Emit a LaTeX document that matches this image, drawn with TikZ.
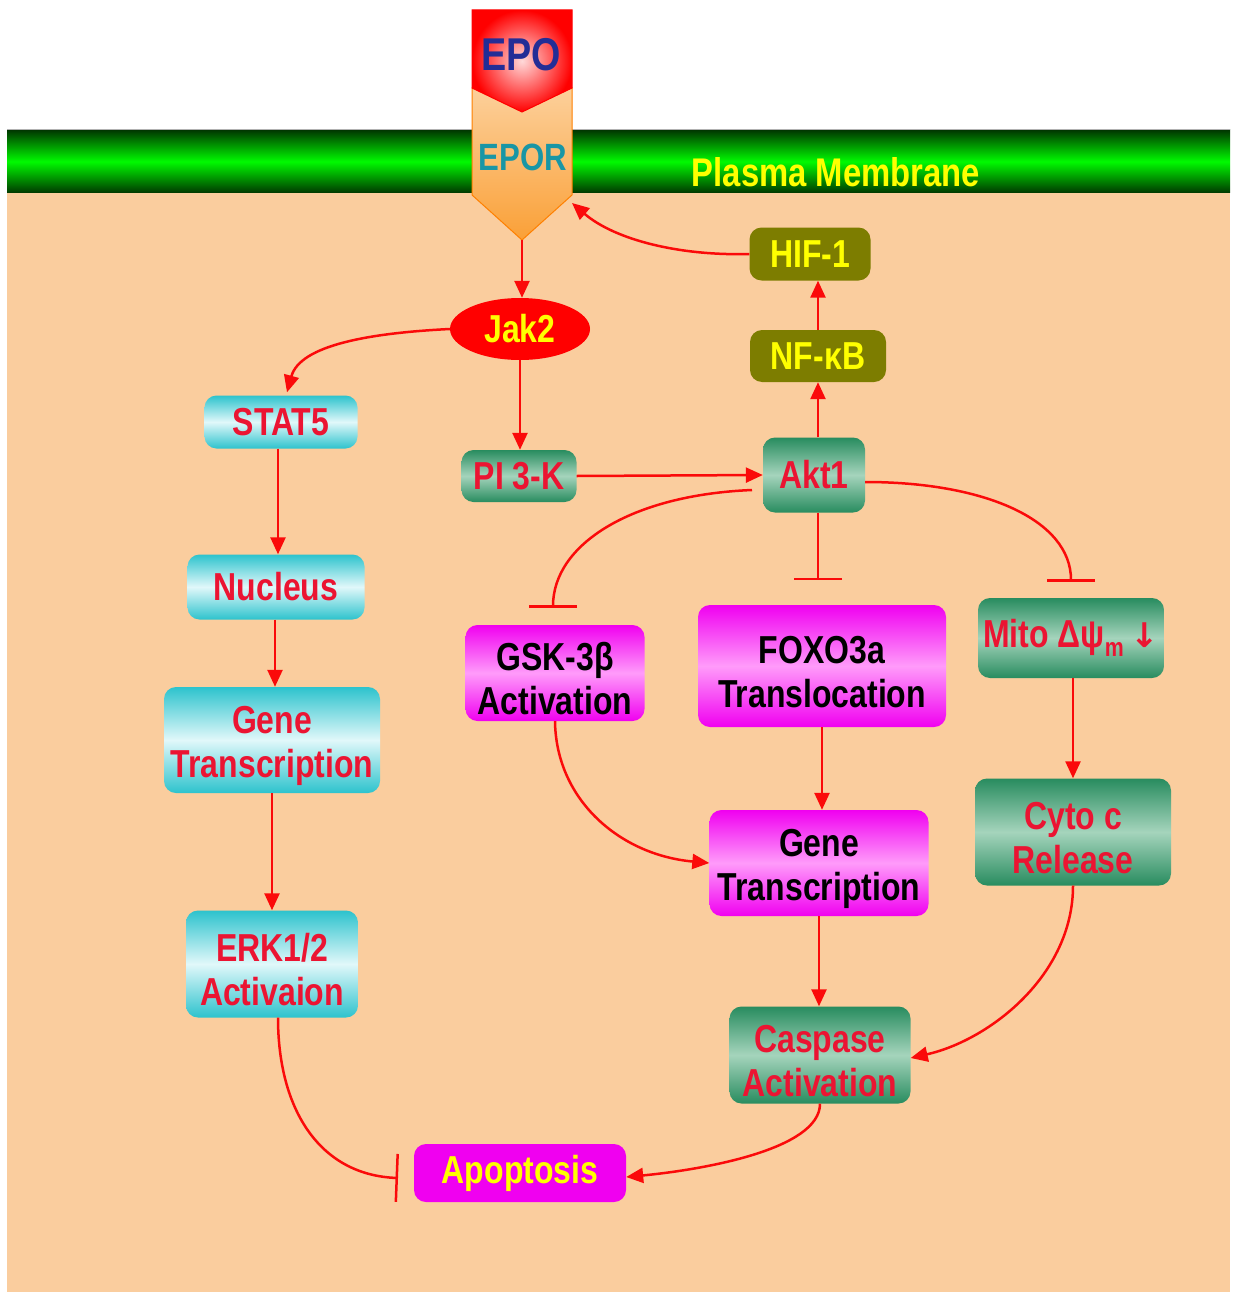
\documentclass[tikz,border=0pt]{standalone}
\usepackage{fontspec}
\setmainfont{Liberation Sans}[FakeStretch=0.82]
\newfontfamily\dejab{DejaVu Sans}
\newcommand\tstrut{\rule{0pt}{40pt}}
\usetikzlibrary{arrows.meta,shapes.geometric,calc}
\definecolor{peach}{RGB}{250,205,158}
\definecolor{memdark}{RGB}{0,55,0}
\definecolor{membright}{RGB}{0,250,0}
\definecolor{txtred}{RGB}{235,20,50}
\definecolor{txtyel}{RGB}{255,255,0}
\definecolor{arrred}{RGB}{250,10,10}
\definecolor{cyandk}{RGB}{45,195,205}
\definecolor{cyanlt}{RGB}{225,248,250}
\definecolor{grndk}{RGB}{40,140,95}
\definecolor{grnlt}{RGB}{165,212,188}
\definecolor{magdk}{RGB}{240,0,240}
\definecolor{maglt}{RGB}{255,155,250}
\definecolor{olivec}{RGB}{125,125,0}
\definecolor{navyc}{RGB}{35,45,150}
\definecolor{tealc}{RGB}{25,150,165}
\definecolor{orlt}{RGB}{252,208,155}
\definecolor{ordk}{RGB}{250,160,55}
\tikzset{
  base/.style={rounded corners=12pt, inner sep=0pt, align=center,
    font=\bfseries\fontsize{39}{44}\selectfont},
  cyanbox/.style={base, top color=cyandk, bottom color=cyandk, middle color=cyanlt, text=txtred},
  grnbox/.style={base, top color=grndk, bottom color=grndk, middle color=grnlt, text=txtred},
  magbox/.style={base, top color=magdk, bottom color=magdk, middle color=maglt, text=black},
  olivebox/.style={base, fill=olivec, text=txtyel},
  conn/.style={draw=arrred, line width=2.5pt, -{Triangle[length=17pt,width=15pt]}},
  inhib/.style={draw=arrred, line width=2.5pt, -{Bar[width=48pt,line width=2.5pt]}},
}
\begin{document}
\begin{tikzpicture}[x=1pt,y=-1pt]
\useasboundingbox (0,0) rectangle (1233,1292);
\fill[white] (0,0) rectangle (1233,1292);
\fill[peach] (7,193) rectangle (1230,1292);
\shade[top color=memdark, bottom color=memdark, middle color=membright] (7,130) rectangle (1230,193);
\draw[gray!60, line width=1pt] (7,130) -- (1230,130);
\node[font=\bfseries\fontsize{40}{40}\selectfont, text=txtyel] (pm) at (836,172) {Plasma Membrane};

% EPOR and EPO
\shade[top color=orlt, bottom color=ordk, draw=orange, line width=1pt]
  (472,88) -- (572,88) -- (572,195) -- (522,240) -- (472,195) -- cycle;
\shade[inner color=red!15, outer color=red, draw=red, line width=1pt]
  (472,10) -- (572,10) -- (572,88) -- (522,112) -- (472,88) -- cycle;
\node[font=\bfseries\fontsize{46}{46}\selectfont, text=navyc] (epo) at (521,55) {EPO};
\node[font=\bfseries\fontsize{38}{38}\selectfont, text=tealc] (epor) at (523,157) {EPOR};
\coordinate (eportip) at (522,240);
\coordinate (eporright) at (572,203);

% nodes
\node[ellipse, fill=red, minimum width=140pt, minimum height=62pt, inner sep=0pt,
  font=\bfseries\fontsize{39}{44}\selectfont, text=txtyel] (jak) at (520,329) {Jak2};
\node[cyanbox, minimum width=153pt, minimum height=53pt] (stat) at (281,422) {STAT5};
\node[cyanbox, minimum width=177pt, minimum height=65pt] (nuc) at (276,587) {Nucleus};
\node[cyanbox, minimum width=216pt, minimum height=106pt] (gtl) at (272,740) {\tstrut Gene\\Transcription};
\node[cyanbox, minimum width=172pt, minimum height=107pt] (erk) at (272,964) {\tstrut ERK1/2\\Activaion};
\node[grnbox, minimum width=115pt, minimum height=52pt] (pi) at (519,476) {PI 3-K};
\node[grnbox, minimum width=102pt, minimum height=75pt] (akt) at (814,475) {Akt1};
\node[olivebox, minimum width=136pt, minimum height=52pt] (nfkb) at (818,356) {NF-κB};
\node[olivebox, minimum width=121pt, minimum height=53pt] (hif) at (810,254) {HIF-1};
\node[magbox, minimum width=179pt, minimum height=96pt] (gsk) at (555,673) {\tstrut GSK-3β\\Activation};
\node[magbox, minimum width=248pt, minimum height=122pt] (foxo) at (822,666) {\tstrut FOXO3a\\Translocation};
\node[grnbox, minimum width=186pt, minimum height=80pt] (mito) at (1071,638)
  {Mito Δψ{\fontsize{26}{26}\selectfont\raisebox{-9pt}{m}}\,{\dejab\bfseries\fontsize{34}{34}\selectfont ↓}};
\node[magbox, minimum width=219pt, minimum height=106pt] (gtr) at (819,863) {\tstrut Gene\\Transcription};
\node[grnbox, minimum width=196pt, minimum height=107pt] (cyto) at (1073,832) {\tstrut Cyto c\\Release};
\node[grnbox, minimum width=181pt, minimum height=97pt] (casp) at (820,1055) {\tstrut Caspase\\Activation};
\node[base, fill=magdk, text=txtyel, minimum width=212pt, minimum height=58pt] (apop) at (520,1173) {Apoptosis};

% helper coordinates
\coordinate (statb) at ($(stat.south)+(-3,0)$);
\coordinate (nucb) at ($(nuc.south)+(-1,0)$);
\coordinate (aktt) at ($(akt.north)+(4,0)$);
\coordinate (aktb) at ($(akt.south)+(4,0)$);
\coordinate (foxobar) at (818,580);
\coordinate (mitob) at ($(mito.south)+(2,0)$);
\coordinate (erkb) at ($(erk.south)+(6,0)$);
\coordinate (apopbar) at (398,1178);
\coordinate (aktsw) at (752,490);
\coordinate (gskbar) at ($(gsk.north)+(-2,-17)$);
\coordinate (mitobar) at ($(mito.north)+(0,-16)$);
\coordinate (statin) at ($(stat.north)+(6,-3)$);

% connectors
\draw[conn] (eportip) -- (eportip |- jak.north);
\draw[conn] (jak.west) .. controls (370,333) and (300,345) .. (statin);
\draw[conn] (jak.south) -- (jak.south |- pi.north);
\draw[conn] (pi.east) -- (akt.west);
\draw[conn] (aktt) -- (aktt |- nfkb.south);
\draw[conn] (nfkb.north) -- (nfkb.north |- hif.south);
\draw[conn] (hif.west) .. controls (680,256) and (615,240) .. (eporright);
\draw[conn] (statb) -- (statb |- nuc.north);
\draw[conn] (nucb) -- (nucb |- gtl.north);
\draw[conn] (gtl.south) -- (gtl.south |- erk.north);
\draw[inhib] (erkb) .. controls (278,1110) and (320,1175) .. (apopbar);
\draw[inhib] (aktsw) .. controls (630,495) and (553,545) .. (gskbar);
\draw[inhib] (aktb) -- (foxobar);
\draw[inhib] ($(akt.east)+(0,7)$) .. controls (985,482) and (1071,520) .. (mitobar);
\draw[conn] (mitob) -- (mitob |- cyto.north);
\draw[conn] (foxo.south) -- (foxo.south |- gtr.north);
\draw[conn] (gsk.south) .. controls (556,800) and (620,855) .. (gtr.west);
\draw[conn] (gtr.south) -- (gtr.south |- casp.north);
\draw[conn] (cyto.south) .. controls (1073,975) and (990,1040) .. ($(casp.east)+(0,3)$);
\draw[conn] (casp.south) .. controls (820,1150) and (700,1170) .. ($(apop.east)+(0,4)$);
\end{tikzpicture}
\end{document}
